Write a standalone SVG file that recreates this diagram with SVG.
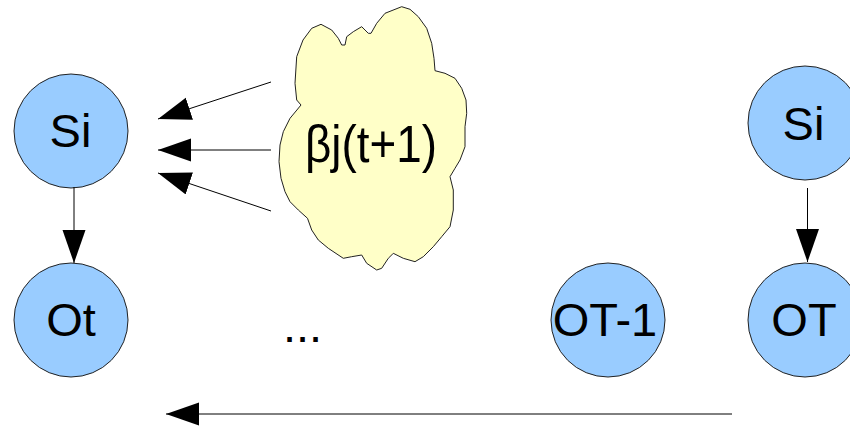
<svg xmlns="http://www.w3.org/2000/svg" width="850" height="426" viewBox="0 0 850 426">
  <style>
    .node circle { fill: #99ccff; stroke: #222; stroke-width: 1; }
    .label { font-family: "Liberation Sans", Arial, sans-serif; font-size: 47px; fill: #000; text-anchor: middle; }
    .edge { stroke: #000; stroke-width: 1; fill: none; marker-end: url(#head); }
    .cloud { fill: #ffffc8; stroke: #222; stroke-width: 1; stroke-linejoin: round; }
  </style>
  <defs>
    <marker id="head" markerUnits="userSpaceOnUse" markerWidth="34" markerHeight="24" refX="33" refY="11.5" orient="auto">
      <path d="M0,0 L33,11.5 L0,23 Z" fill="#000"/>
    </marker>
  </defs>
  <rect width="850" height="426" fill="#fff"/>

  <!-- backward message cloud -->
  <g id="beta">
    <polygon class="cloud" points="296.7,56.7 303,40 311.7,28.3 321,24.3 331.7,30 338.3,38.3 341.7,45 345,45 346.7,36.7 353.3,31.7 361.7,26.7 368.3,33.3 371,33.3 376.7,23.3 385,13.3 401.7,6.7 410,9.3 418.3,16.7 426.7,28.3 431.7,43.3 434,58.3 435,70.7 445,73.3 455,78.3 461.7,88.3 466,100 466.7,113.3 465,126.7 465,146.7 460,160 455,168.3 450,176.7 453.3,190 453.3,210 450,226.7 441.7,236.7 433.3,246.7 423.3,256.7 415,261.7 403.3,258.3 393.3,253.3 388.3,258.3 381.7,268.3 376.7,270 366.7,263.3 361.7,255 351.7,256.7 343.3,258.3 328.3,248.3 318.3,240 311.7,230 307.5,218.3 298.3,210 290,201.7 285,191.7 281,178.3 279,161.7 280,145 283.3,131.7 290,118.3 301,105 296.7,100 295,83.3"/>
    <text class="label" x="371" y="162" font-size="52" style="font-size:52px" textLength="132" lengthAdjust="spacingAndGlyphs">βj(t+1)</text>
  </g>

  <g id="Si_left" class="node">
    <circle cx="71" cy="131" r="57"/>
    <text class="label" x="70.5" y="147">Si</text>
  </g>
  <g id="Ot" class="node">
    <circle cx="71" cy="320" r="57"/>
    <text class="label" x="71" y="336">Ot</text>
  </g>
  <g id="dots">
    <text class="label" x="302.5" y="342">...</text>
  </g>
  <g id="OT_minus_1" class="node">
    <circle cx="608" cy="320" r="57"/>
    <text class="label" x="605" y="336">OT-1</text>
  </g>
  <g id="Si_right" class="node">
    <circle cx="805" cy="123" r="57"/>
    <text class="label" x="803.5" y="140">Si</text>
  </g>
  <g id="OT" class="node">
    <circle cx="805" cy="320" r="57"/>
    <text class="label" x="804" y="336">OT</text>
  </g>

  <g id="connectors">
    <line class="edge" x1="74" y1="187" x2="74" y2="263"/>
    <line class="edge" x1="807.5" y1="188" x2="807.5" y2="262"/>
    <line class="edge" x1="271" y1="82" x2="158" y2="119"/>
    <line class="edge" x1="271" y1="150" x2="158" y2="150"/>
    <line class="edge" x1="271" y1="211" x2="158" y2="173"/>
    <line class="edge" x1="732" y1="414" x2="166" y2="414"/>
  </g>
</svg>
